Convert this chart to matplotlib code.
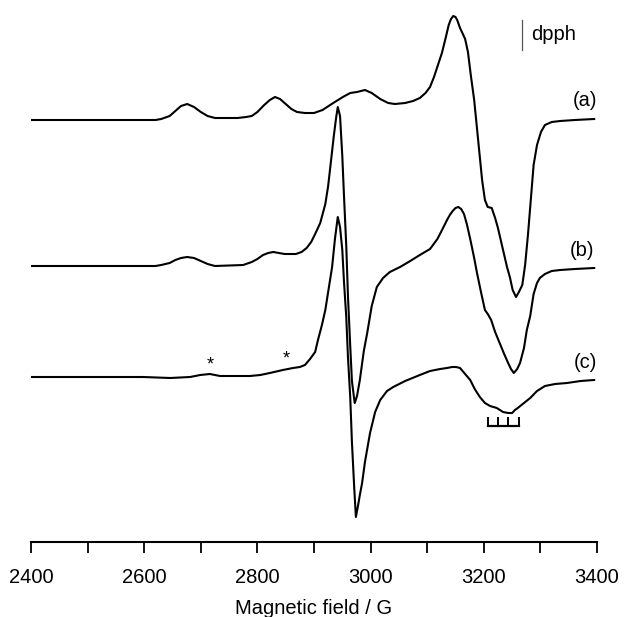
import matplotlib
matplotlib.use('Agg')
import matplotlib.pyplot as plt
import numpy as np

plt.rcParams['font.family'] = ['Liberation Sans', 'DejaVu Sans']

# spectrum (a)
field_a = [2400, 2620, 2630, 2645, 2655, 2665, 2676, 2688, 2700, 2712, 2725, 2745,
           2765, 2780, 2790, 2800, 2812, 2822, 2831, 2840, 2850, 2860, 2870, 2884,
           2900, 2915, 2934, 2951, 2964, 2976, 2990, 3002, 3017, 3031, 3043, 3061,
           3075, 3087, 3097, 3105, 3112, 3119, 3126, 3133, 3138, 3142, 3146, 3150,
           3153, 3158, 3163, 3167, 3172, 3177, 3183, 3190, 3197, 3202, 3207, 3214,
           3220, 3225, 3234, 3241, 3246, 3251, 3257, 3262, 3268, 3273, 3278, 3283,
           3288, 3294, 3301, 3308, 3320, 3335, 3361, 3395]
signal_a = [0, 0, 1, 4, 9, 14, 16, 13, 8, 4, 2, 2,
            2, 3, 4, 8, 15, 20, 23, 21, 16, 11, 8, 7,
            7, 10, 17, 23, 27, 28, 30, 27, 21, 17, 16, 17,
            19, 22, 27, 33, 43, 55, 67, 83, 95, 101, 104, 103,
            100, 92, 86, 81, 68, 45, 20, -20, -60, -80, -87, -88,
            -98, -108, -130, -147, -157, -170, -177, -172, -165, -145, -115, -80,
            -45, -25, -12, -5, -2, -1, 0, 1]

# spectrum (b)
field_b = [2400, 2620, 2630, 2645, 2655, 2665, 2676, 2688, 2700, 2712, 2725, 2775,
           2790, 2800, 2810, 2819, 2828, 2838, 2848, 2858, 2868, 2878, 2887, 2895,
           2902, 2911, 2920, 2925, 2930, 2935, 2939, 2942, 2946, 2950, 2953, 2957,
           2960, 2964, 2967, 2971, 2972, 2976, 2981, 2988, 2994, 3002, 3011, 3022,
           3034, 3052, 3070, 3087, 3105, 3118, 3128, 3135, 3140, 3145, 3150, 3155,
           3160, 3165, 3170, 3176, 3183, 3188, 3195, 3202, 3207, 3213, 3220, 3228,
           3236, 3243, 3248, 3253, 3259, 3264, 3271, 3276, 3282, 3288, 3294, 3299,
           3308, 3320, 3335, 3361, 3395]
signal_b = [0, 0, 1, 3, 6, 8, 9, 8, 5, 2, 0, 1,
            4, 7, 11, 13, 14, 13, 12, 12, 12, 14, 18, 24,
            32, 43, 62, 80, 105, 130, 148, 159, 150, 110, 70, 20,
            -30, -80, -115, -133, -137, -130, -114, -85, -67, -40, -21, -12,
            -6, -1, 5, 11, 17, 27, 38, 46, 51, 55, 58, 59,
            57, 52, 42, 27, 8, -7, -26, -44, -48, -54, -66, -77,
            -88, -97, -103, -107, -103, -97, -82, -64, -50, -28, -17, -12,
            -8, -5, -4, -3, -2]

# spectrum (c)
field_c = [2400, 2522, 2598, 2646, 2681, 2699, 2716, 2734, 2757, 2787, 2805, 2822,
           2845, 2863, 2875, 2884, 2893, 2902, 2907, 2914, 2920, 2925, 2932, 2937,
           2942, 2946, 2950, 2953, 2957, 2960, 2964, 2967, 2971, 2974, 2978, 2981,
           2985, 2990, 2999, 3008, 3017, 3029, 3040, 3061, 3087, 3105, 3123, 3135,
           3144, 3151, 3158, 3167, 3176, 3184, 3193, 3202, 3211, 3223, 3234, 3243,
           3250, 3255, 3260, 3271, 3282, 3294, 3308, 3326, 3347, 3371, 3395]
signal_c = [0, 0, 0, -1, 0, 2, 3, 1, 1, 1, 2, 4,
            7, 9, 10, 12, 18, 25, 37, 52, 67, 85, 110, 138,
            160, 150, 127, 95, 60, 20, -20, -65, -110, -140, -128, -118,
            -106, -85, -56, -35, -23, -14, -10, -4, 2, 6, 8, 9,
            10, 10, 9, 3, -3, -12, -20, -26, -29, -31, -35, -36,
            -36, -33, -31, -26, -21, -14, -9, -7, -6, -4, -3]

labels = ['(a)', '(b)', '(c)']
offsets = [422, 276, 165]

# hyperfine stick pattern under (c)
stick_fields = [3207, 3225, 3242, 3262]
dpph_field = 3268
star_fields = [2716, 2851]

fig = plt.figure(figsize=(6.24, 6.17), dpi=100)
ax = fig.add_axes([31 / 624, 75 / 617, 566 / 624, 542 / 617])

for f, s, off in zip([field_a, field_b, field_c],
                     [signal_a, signal_b, signal_c], offsets):
    ax.plot(f, np.array(s) + off, color='black', lw=1.5, solid_joinstyle='round')

ax.text(3379, 442, labels[0], fontsize=14.5, ha='center', va='center')
ax.text(3374, 292, labels[1], fontsize=14.5, ha='center', va='center')
ax.text(3379, 179, labels[2], fontsize=14.5, ha='center', va='center')

# stars on (c)
ax.text(star_fields[0], 177, '*', fontsize=13, ha='center', va='center')
ax.text(star_fields[1], 183, '*', fontsize=13, ha='center', va='center')

# stick diagram
ax.plot([stick_fields[0], stick_fields[-1]], [116, 116], color='black', lw=1.6)
for sf in stick_fields:
    ax.plot([sf, sf], [116, 124], color='black', lw=1.4)

# dpph marker
ax.plot([dpph_field, dpph_field], [492, 522], color='#555555', lw=0.9)
ax.text(dpph_field + 15, 508, 'dpph', fontsize=14.5, ha='left', va='center')

ax.set_xlim(2400, 3400)
ax.set_ylim(0, 542)
for sp in ['top', 'left', 'right']:
    ax.spines[sp].set_visible(False)
ax.spines['bottom'].set_linewidth(1.5)
ax.set_yticks([])
ax.set_xticks(np.arange(2400, 3401, 100))
ax.set_xticklabels([str(v) if v % 200 == 0 else '' for v in range(2400, 3401, 100)])
ax.tick_params(axis='x', direction='out', length=8, width=1.3, labelsize=14.5, pad=11)
ax.set_xlabel('Magnetic field / G', fontsize=14.5, labelpad=8)
ax.patch.set_alpha(0)

fig.savefig('out.png', dpi=100)
